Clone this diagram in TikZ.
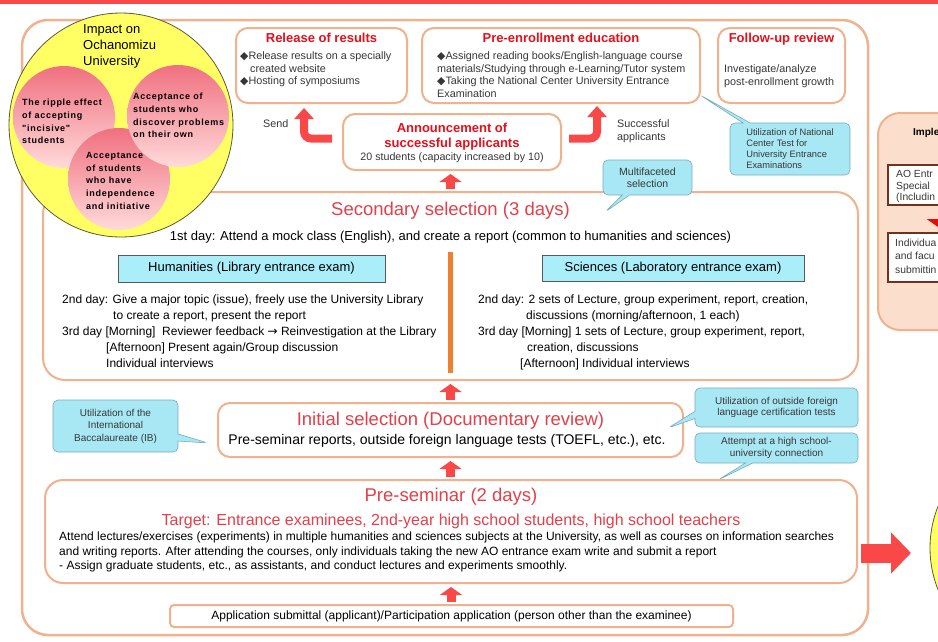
\documentclass[tikz,border=0pt]{standalone}
\usepackage{fontspec}
\setmainfont{Liberation Sans}
\newfontfamily\symfont{DejaVu Sans}
\newfontfamily\spacedfont[LetterSpace=8]{Liberation Sans}
\usetikzlibrary{positioning,arrows.meta,shapes.callouts}

\definecolor{boxorange}{RGB}{240,178,140}
\definecolor{titlered}{RGB}{228,16,28}
\definecolor{softred}{RGB}{226,64,74}
\definecolor{arrowred}{RGB}{250,72,72}
\definecolor{notecyan}{RGB}{168,232,244}
\definecolor{noteedge}{RGB}{120,170,190}
\definecolor{tabcyan}{RGB}{170,238,250}
\definecolor{bodygrey}{RGB}{55,55,55}
\definecolor{circleyellow}{RGB}{255,255,100}
\definecolor{linkorange}{RGB}{240,128,48}
\definecolor{peach}{RGB}{251,222,204}
\definecolor{brownedge}{RGB}{110,50,30}

\newcommand{\bdia}{{\symfont ◆}}
\newcommand{\fsz}[2]{\fontsize{#1}{#2}\selectfont}

\tikzstyle{stage} = [rectangle, rounded corners=12pt, draw=boxorange, line width=2pt, fill=white]
\tikzstyle{frame} = [rectangle, rounded corners=26pt, draw=boxorange, line width=2.5pt]
\tikzstyle{topic} = [font=\bfseries\fsz{13}{15}, text=titlered, align=center, inner sep=0pt]
\tikzstyle{headline} = [font=\fsz{18.5}{20}, text=softred, inner sep=0pt]
\tikzstyle{body} = [font=\fsz{10.8}{12.5}, text=bodygrey, align=left, inner sep=0pt]
\tikzstyle{plain} = [font=\fsz{12}{16}, align=left, inner sep=0pt]
\tikzstyle{note} = [rectangle callout, rounded corners=5pt, fill=notecyan, draw=noteedge, line width=0.6pt, font=\fsz{10}{12}, text=bodygrey, align=center, inner sep=2pt]
\tikzstyle{examtab} = [rectangle, fill=tabcyan, draw=gray!70!black, line width=0.6pt, font=\fsz{13}{15}]
\tikzstyle{uparrow} = [line width=9pt, draw=arrowred, -{Triangle[length=8pt,width=22pt]}, shorten <=2pt, shorten >=3pt]
\tikzstyle{bentarrow} = [line width=8pt, draw=arrowred, rounded corners=7pt, -{Triangle[length=11pt,width=19pt]}]
\tikzstyle{bigarrow} = [line width=19pt, draw=arrowred, -{Triangle[length=20pt,width=40pt]}]
\tikzstyle{impact} = [font=\spacedfont\bfseries\fsz{9}{12.7}, align=left, inner sep=0pt]

\begin{document}
\begin{tikzpicture}[x=1pt, y=-1pt]
	\useasboundingbox (0,0) rectangle (938,641);
	\clip (0,0) rectangle (938,641);
	\fill[white] (0,0) rectangle (938,641);
	\fill[arrowred] (0,0) rectangle (938,4);

	% outer frame and the partly visible next step
	\node[frame, minimum width=846pt, minimum height=615pt] (frame) at (445,327.5) {};
	\node[rectangle, rounded corners=22pt, draw=boxorange, line width=2pt, fill=peach, minimum width=134pt, minimum height=217pt] (implement) at (945,221.5) {};
	\node[rectangle, draw=brownedge, line width=2pt, fill=white, minimum width=124pt, minimum height=40pt] (aoentry) at (950,185) {};
	\node[rectangle, draw=brownedge, line width=2pt, fill=white, minimum width=124pt, minimum height=49pt] (individual) at (950,257.5) {};
	\node[font=\bfseries\fsz{10}{12}, inner sep=0pt, anchor=west] at (913,133) {Imple};
	\node[body, font=\fsz{10.3}{11.5}, anchor=north west] at (896,170.5) {AO Entr\\Special\\(Includin};
	\node[body, font=\fsz{10.3}{13.5}, anchor=north west] at (895,238.5) {Individua\\and facu\\submittin};
	\draw[line width=12pt, draw={rgb,255:red,230;green,10;blue,10}, -{Triangle[length=13pt,width=36pt]}] ([xshift=-5pt]aoentry.south) -- ([xshift=-5pt]individual.north);
	\draw[fill=circleyellow, draw={rgb,255:red,90;green,90;blue,60}, line width=0.8pt] (1042,548) circle[radius=112pt];

	\coordinate (nextstep) at (911,553);
	\draw[bigarrow, shorten <=-8pt] (frame.east |- nextstep) -- (nextstep);

	% follow-up stages
	\node[stage, minimum width=171pt, minimum height=75pt] (release) at (321.5,65.5) {};
	\node[stage, minimum width=278pt, minimum height=75pt] (preenroll) at (561,65.5) {};
	\node[stage, minimum width=127pt, minimum height=75pt] (followup) at (781.5,65.5) {};
	\node[topic, below=6pt of release.north] (releasetitle) {Release of results};
	\node[topic, below=6pt of preenroll.north] (preenrolltitle) {Pre-enrollment education};
	\node[topic, below=6pt of followup.north] (followuptitle) {Follow-up review};
	\node[body, anchor=north west] at (240,51.5) {\bdia Release results on a specially\\\hspace*{10pt}created website\\\bdia Hosting of symposiums};
	\node[body, anchor=north west] at (437,51.5) {\bdia Assigned reading books/English-language course\\materials/Studying through e-Learning/Tutor system\\\bdia Taking the National Center University Entrance\\Examination};
	\node[body, anchor=north west] at (724,64.5) {Investigate/analyze\\post-enrollment growth};

	\node[stage, minimum width=218pt, minimum height=56pt] (announce) at (452,142) {};
	\node[topic, anchor=north] at (452,122.5) {Announcement of\\successful applicants};
	\node[body, font=\fsz{10.7}{12}] at (452,158) {20 students (capacity increased by 10)};
	\draw[bentarrow, shorten <=10pt, shorten >=4pt] ([yshift=3.5pt]announce.west) -| ([xshift=-17.5pt]release.south);
	\draw[bentarrow, shorten <=7pt, shorten >=2pt] ([yshift=3.5pt]announce.east) -| ([xshift=36pt]preenroll.south);
	\node[body, anchor=west] at (263,124) {Send};
	\node[body, anchor=north west] at (617,119.5) {Successful\\applicants};

	% secondary selection
	\node[stage, rounded corners=22pt, minimum width=815pt, minimum height=188pt] (second) at (450.5,286) {};
	\node[headline] at (450.5,211) {Secondary selection (3 days)};
	\node[plain, font=\fsz{13}{15}] at (450.5,237) {1st day: Attend a mock class (English), and create a report (common to humanities and sciences)};
	\node[examtab, minimum width=267pt, minimum height=27pt] (human) at (251.5,268.5) {Humanities (Library entrance exam)};
	\node[examtab, minimum width=262pt, minimum height=26pt] (science) at (673,268) {Sciences (Laboratory entrance exam)};
	\draw[linkorange, line width=4.5pt] (450.5,252) -- (450.5,373);
	\node[plain, anchor=north west] at (62,295) {2nd day: Give a major topic (issue), freely use the University Library\\\hspace*{51pt}to create a report, present the report\\3rd day [Morning]\ \ Reviewer feedback {\symfont →} Reinvestigation at the Library\\\hspace*{44pt}[Afternoon] Present again/Group discussion\\\hspace*{44pt}Individual interviews};
	\node[plain, anchor=north west] at (478,295) {2nd day: 2 sets of Lecture, group experiment, report, creation,\\\hspace*{48pt}discussions (morning/afternoon, 1 each)\\3rd day [Morning] 1 sets of Lecture, group experiment, report,\\\hspace*{49pt}creation, discussions\\\hspace*{42pt}[Afternoon] Individual interviews};

	% initial selection
	\node[stage, minimum width=465pt, minimum height=54pt] (initial) at (450.5,430) {};
	\node[headline] at (450.5,421) {Initial selection (Documentary review)};
	\node[plain, font=\fsz{14}{16}] at (447,441) {Pre-seminar reports, outside foreign language tests (TOEFL, etc.), etc.};

	% pre-seminar
	\node[stage, rounded corners=18pt, minimum width=812pt, minimum height=103pt] (preseminar) at (451,531.5) {};
	\node[headline] at (451,497) {Pre-seminar (2 days)};
	\node[headline, font=\fsz{16}{18}] at (451,521) {Target: Entrance examinees, 2nd-year high school students, high school teachers};
	\node[plain, font=\fsz{12}{14.5}, anchor=north west] at (59,532) {Attend lectures/exercises (experiments) in multiple humanities and sciences subjects at the University, as well as courses on information searches\\and writing reports. After attending the courses, only individuals taking the new AO entrance exam write and submit a report\\- Assign graduate students, etc., as assistants, and conduct lectures and experiments smoothly.};

	\node[stage, rounded corners=4pt, minimum width=563pt, minimum height=22pt] (apply) at (451.5,616) {};
	\node[plain] at (451.5,616) {Application submittal (applicant)/Participation application (person other than the examinee)};

	\draw[uparrow] (second.north) -- (second.north |- announce.south);
	\draw[uparrow] (initial.north) -- (initial.north |- second.south);
	\draw[uparrow] (initial.south |- preseminar.north) -- (initial.south);
	\draw[uparrow] (apply.north -| preseminar.south) -- (preseminar.south);

	% remarks
	\node[note, align=left, font=\fsz{9.3}{11}, minimum width=120pt, minimum height=52pt, callout absolute pointer={(700,95)}] (natcenter) at (790,149) {Utilization of National\\Center Test for\\University Entrance\\Examinations};
	\node[note, font=\fsz{10.5}{12}, minimum width=89pt, minimum height=35pt, callout absolute pointer={(605,212)}] (multi) at (647.5,177.5) {Multifaceted\\selection};
	\node[note, font=\fsz{10}{12.5}, minimum width=125pt, minimum height=52pt, callout absolute pointer={(208,443)}] (ib) at (115.5,426) {Utilization of the\\International\\Baccalaureate (IB)};
	\node[note, font=\fsz{10}{11.5}, minimum width=163pt, minimum height=39pt, callout absolute pointer={(668,428)}] (foreign) at (776.5,407.5) {Utilization of outside foreign\\language certification tests};
	\node[note, font=\fsz{10}{11.5}, minimum width=163pt, minimum height=30pt, callout absolute pointer={(718,480)}] (highschool) at (776.5,448) {Attempt at a high school-\\university connection};

	% impact circle
	\draw[fill=circleyellow, draw={rgb,255:red,90;green,90;blue,60}, line width=0.8pt] (121,125) circle[radius=112pt];
	\shade[top color={rgb,255:red,240;green,112;blue,128}, bottom color={rgb,255:red,255;green,218;blue,218}] (64,117) circle[radius=51pt];
	\shade[top color={rgb,255:red,240;green,112;blue,128}, bottom color={rgb,255:red,255;green,218;blue,218}] (119,179) circle[radius=51pt];
	\shade[top color={rgb,255:red,240;green,112;blue,128}, bottom color={rgb,255:red,255;green,218;blue,218}] (178,116) circle[radius=51pt];
	\node[inner sep=0pt, align=left, font=\fsz{13}{16}, anchor=north west] at (83,24.5) {Impact on\\Ochanomizu\\University};
	\node[impact, anchor=north west] at (22,99) {The ripple effect\\of accepting\\"incisive"\\students};
	\node[impact, anchor=north west] at (133,93) {Acceptance of\\students who\\discover problems\\on their own};
	\node[impact, anchor=north west] at (86,152) {Acceptance\\of students\\who have\\independence\\and initiative};
\end{tikzpicture}
\end{document}
